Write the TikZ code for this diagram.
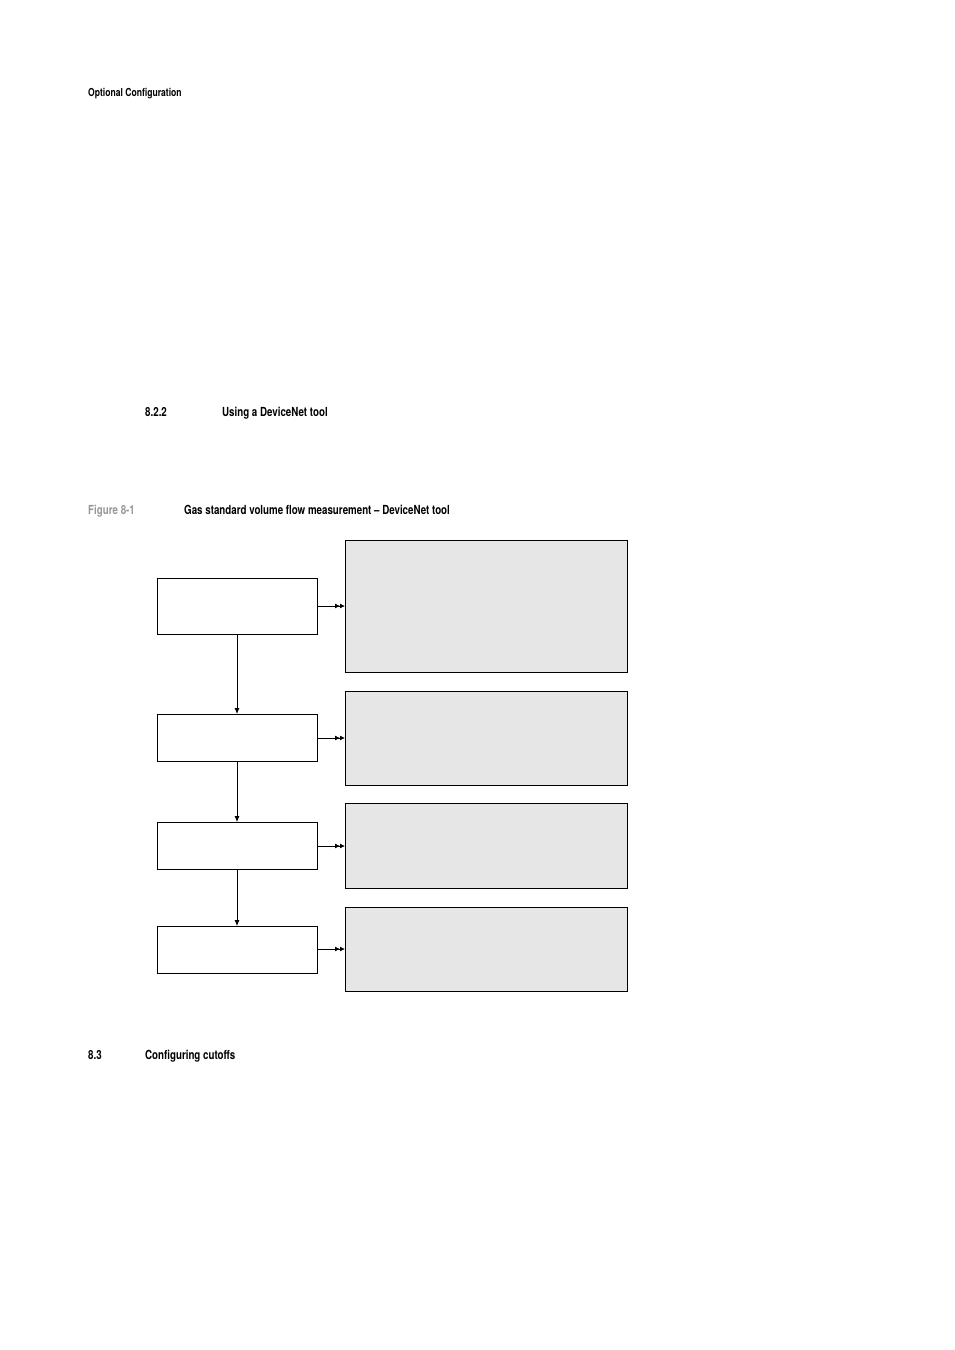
\documentclass[tikz,border=0pt]{standalone}
\usepackage{fontspec}
\setmainfont{TeX Gyre Heros}[FakeStretch=0.78]
\usetikzlibrary{arrows.meta}
\definecolor{boxgray}{RGB}{230,230,230}
\definecolor{figgray}{RGB}{150,150,150}
\begin{document}
\begin{tikzpicture}[x=1pt,y=-1pt,
  step box/.style={draw,line width=0.8pt,fill=white},
  info box/.style={draw,line width=0.8pt,fill=boxgray},
  flow/.style={-{Latex[length=6pt,width=5pt]},line width=0.8pt},
  dbl/.style={-{Latex[length=5pt,width=5pt]Latex[length=5pt,width=5pt]},line width=0.8pt},
  txt/.style={anchor=base west,inner sep=0pt,font=\bfseries}]
\useasboundingbox (0,0) rectangle (954,1350);
\node[txt,font=\bfseries\fontsize{11}{13}\selectfont] (hdr) at (88,96) {Optional Configuration};
\node[txt,font=\bfseries\fontsize{12.5}{15}\selectfont] (s1n) at (145,416) {8.2.2};
\node[txt,font=\bfseries\fontsize{12.5}{15}\selectfont] (s1) at (222,416) {Using a DeviceNet tool};
\node[txt,font=\bfseries\fontsize{12.5}{15}\selectfont,text=figgray] (fn) at (88,514) {Figure 8-1};
\node[txt,font=\bfseries\fontsize{12.5}{15}\selectfont] (ft) at (184,514) {Gas standard volume flow measurement -- DeviceNet tool};
\node[txt,font=\bfseries\fontsize{12.5}{15}\selectfont] (s2n) at (88,1059) {8.3};
\node[txt,font=\bfseries\fontsize{12.5}{15}\selectfont] (s2) at (145,1059) {Configuring cutoffs};
% left boxes
\draw[step box] (157,578) rectangle (317,634);
\draw[step box] (157,714) rectangle (317,761);
\draw[step box] (157,822) rectangle (317,869);
\draw[step box] (157,926) rectangle (317,973);
\coordinate (a1) at (237,634); \coordinate (a2) at (237,714);
\coordinate (b1) at (237,761); \coordinate (b2) at (237,822);
\coordinate (c1) at (237,869); \coordinate (c2) at (237,926);
\draw[flow] (a1) -- (a2);
\draw[flow] (b1) -- (b2);
\draw[flow] (c1) -- (c2);
% right boxes
\draw[info box] (345,540) rectangle (627,672);
\draw[info box] (345,691) rectangle (627,785);
\draw[info box] (345,803) rectangle (627,888);
\draw[info box] (345,907) rectangle (627,991);
\foreach \y in {606,738,846,949}{
  \draw[dbl] (317,\y) -- (345,\y);
}
\end{tikzpicture}
\end{document}
